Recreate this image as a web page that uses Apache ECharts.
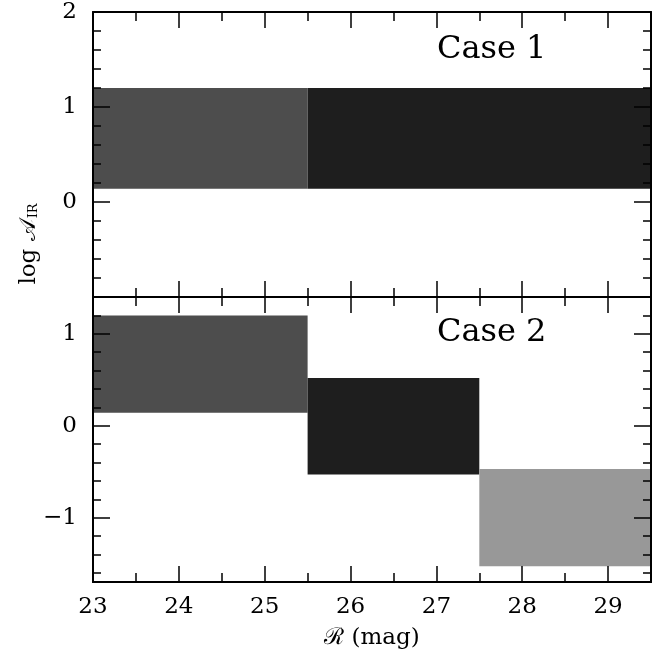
<!DOCTYPE html>
<html>
<head>
<meta charset="utf-8">
<script src="https://cdn.jsdelivr.net/npm/echarts@6/dist/echarts.min.js"></script>
<style>html,body{margin:0;padding:0;background:#fff;}#c{width:670px;height:659px;}</style>
</head>
<body>
<div id="c"></div>
<script>
// ---- data ----
const xTicks = [23, 24, 25, 26, 27, 28, 29];
const case1Start = [23, 25.5];
const case1End = [25.5, 29.5];
const case1Low = [0.14, 0.14];
const case1High = [1.2, 1.2];
const case1Shade = ['dark', 'black'];

const case2Start = [23, 25.5, 27.5];
const case2End = [25.5, 27.5, 29.5];
const case2Low = [0.14, -0.53, -1.53];
const case2High = [1.2, 0.52, -0.47];
const case2Shade = ['dark', 'black', 'light'];

const topYLabels = [0, 1, 2];
const botYMajor = [-1, 0, 1];
const botYMinor = [-1.6, -1.4, -1.2, -0.8, -0.6, -0.4, -0.2, 0.2, 0.4, 0.6, 0.8, 1.2];

const shadeColor = {dark: '#4d4d4d', black: '#1e1e1e', light: '#989898'};
const FONT = 'DejaVu Serif';

function rows(s, e, lo, hi, sh) {
  return s.map((v, i) => [v, e[i], lo[i], hi[i], sh[i]]);
}
function makeRender(shades) {
  return function (params, api) {
    const p0 = api.coord([api.value(0), api.value(3)]);
    const p1 = api.coord([api.value(1), api.value(2)]);
    return {
      type: 'rect',
      shape: {x: p0[0], y: p0[1], width: p1[0] - p0[0], height: p1[1] - p0[1]},
      style: {fill: shadeColor[shades[params.dataIndex]]}
    };
  };
}
const fmt = v => (v < 0 ? '\u2212' + Math.abs(v) : String(v));

const axisLine = {show: true, onZero: false, lineStyle: {color: '#000', width: 2}};
function xAx(grid, pos, labels) {
  return {
    type: 'value', gridIndex: grid, position: pos, min: 23, max: 29.5, interval: 1, z: 5,
    axisLine: axisLine,
    axisTick: {show: true, inside: true, length: 16, lineStyle: {color: '#000', width: 1.5}},
    minorTick: {show: true, splitNumber: 2, length: 9, lineStyle: {color: '#000', width: 1.5}},
    splitLine: {show: false}, minorSplitLine: {show: false},
    axisLabel: {show: labels, color: '#000', fontFamily: FONT, fontSize: 23, margin: 14,
      formatter: v => (xTicks.indexOf(v) >= 0 ? String(v) : '')}
  };
}

const option = {
  animation: false,
  backgroundColor: '#fff',
  grid: [
    {left: 93, right: 19, top: 12, height: 285},
    {left: 93, right: 19, top: 297, height: 285}
  ],
  xAxis: [
    xAx(0, 'bottom', false), xAx(0, 'top', false),
    Object.assign(xAx(1, 'bottom', true), {name: '\u211B (mag)', nameLocation: 'middle', nameGap: 45,
      nameTextStyle: {color: '#000', fontFamily: FONT, fontSize: 23}}),
    xAx(1, 'top', false)
  ],
  yAxis: [
    {type: 'value', gridIndex: 0, position: 'left', min: -1, max: 2, interval: 1, z: 5,
      axisLine: axisLine,
      axisTick: {show: true, inside: true, length: 17, lineStyle: {color: '#000', width: 1.5}},
      minorTick: {show: true, splitNumber: 5, length: 8, lineStyle: {color: '#000', width: 1.5}},
      splitLine: {show: false},
      axisLabel: {color: '#000', fontFamily: FONT, fontSize: 23, margin: 16,
        formatter: v => (topYLabels.indexOf(v) >= 0 ? fmt(v) : '')}},
    {type: 'value', gridIndex: 0, position: 'right', min: -1, max: 2, interval: 1, z: 5,
      axisLine: axisLine,
      axisTick: {show: true, inside: true, length: 17, lineStyle: {color: '#000', width: 1.5}},
      minorTick: {show: true, splitNumber: 5, length: 8, lineStyle: {color: '#000', width: 1.5}},
      splitLine: {show: false}, axisLabel: {show: false}},
    {type: 'value', gridIndex: 1, position: 'left', min: -1.7, max: 1.4, z: 5,
      axisLine: axisLine,
      axisTick: {show: true, inside: true, length: 17, customValues: botYMajor, lineStyle: {color: '#000', width: 1.5}},
      splitLine: {show: false},
      axisLabel: {color: '#000', fontFamily: FONT, fontSize: 23, margin: 16, customValues: botYMajor, formatter: fmt}},
    {type: 'value', gridIndex: 1, position: 'right', min: -1.7, max: 1.4, z: 5,
      axisLine: axisLine,
      axisTick: {show: true, inside: true, length: 17, customValues: botYMajor, lineStyle: {color: '#000', width: 1.5}},
      splitLine: {show: false}, axisLabel: {show: false}},
    {type: 'value', gridIndex: 1, position: 'left', offset: 0, min: -1.7, max: 1.4, z: 5,
      axisLine: axisLine,
      axisTick: {show: true, inside: true, length: 8, customValues: botYMinor, lineStyle: {color: '#000', width: 1.5}},
      splitLine: {show: false}, axisLabel: {show: false}},
    {type: 'value', gridIndex: 1, position: 'right', offset: 0, min: -1.7, max: 1.4, z: 5,
      axisLine: axisLine,
      axisTick: {show: true, inside: true, length: 8, customValues: botYMinor, lineStyle: {color: '#000', width: 1.5}},
      splitLine: {show: false}, axisLabel: {show: false}}
  ],
  series: [
    {type: 'custom', xAxisIndex: 0, yAxisIndex: 0, z: 1, clip: true,
      renderItem: makeRender(case1Shade), encode: {x: [0, 1], y: [2, 3]},
      data: rows(case1Start, case1End, case1Low, case1High, case1Shade)},
    {type: 'custom', xAxisIndex: 2, yAxisIndex: 2, z: 1, clip: true,
      renderItem: makeRender(case2Shade), encode: {x: [0, 1], y: [2, 3]},
      data: rows(case2Start, case2End, case2Low, case2High, case2Shade)}
  ],
  graphic: [
    {type: 'text', x: 437, y: 50, z: 10,
      style: {text: 'Case 1', font: '32px "DejaVu Serif"', fill: '#000', verticalAlign: 'middle'}},
    {type: 'text', x: 437, y: 333, z: 10,
      style: {text: 'Case 2', font: '32px "DejaVu Serif"', fill: '#000', verticalAlign: 'middle'}},
    {type: 'text', x: 29, y: 244, rotation: Math.PI / 2, z: 10,
      style: {text: 'log \uD835\uDC9C{sub|IR}', fill: '#000', font: '23px "DejaVu Serif"',
        align: 'center', verticalAlign: 'middle',
        rich: {sub: {fontFamily: FONT, fontSize: 13, verticalAlign: 'bottom', padding: [10, 0, 0, 1]}}}}
  ]
};
const chart = echarts.init(document.getElementById('c'), null, {renderer: 'canvas'});
chart.setOption(option);
</script>
</body>
</html>
